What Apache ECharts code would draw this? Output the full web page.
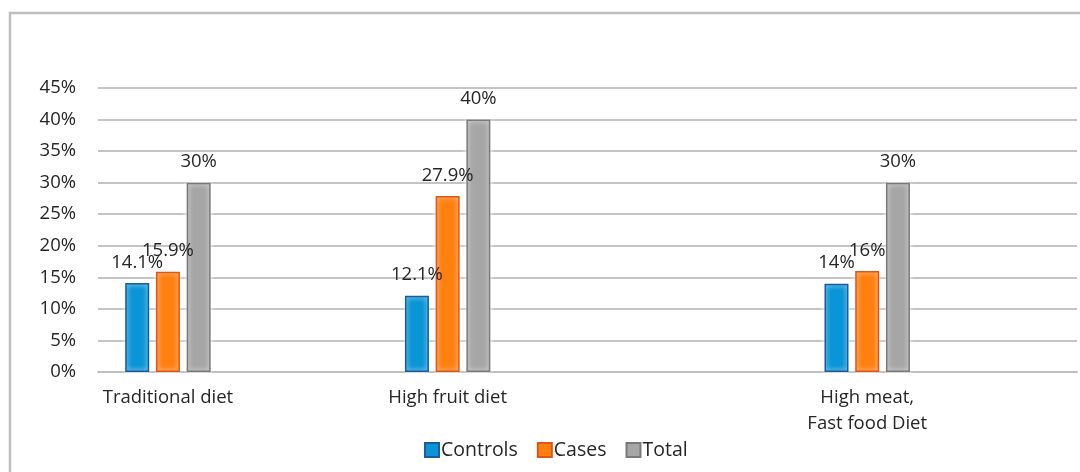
<!DOCTYPE html>
<html>
<head>
<meta charset="utf-8">
<script src="https://cdn.jsdelivr.net/npm/echarts@6/dist/echarts.min.js"></script>
<style>
  html, body { margin: 0; padding: 0; background: #fff; }
  #chart { width: 1080px; height: 472px; }
</style>
</head>
<body>
<div id="chart"></div>
<script>
// Diet pattern groups and the share (%) of each group in every series
const categories = ['Traditional diet', 'High fruit diet', 'High meat,\nFast food Diet'];
const controls = [14.1, 12.1, 14];
const cases = [15.9, 27.9, 16];
const total = [30, 40, 30];
const yTicks = [0, 5, 10, 15, 20, 25, 30, 35, 40, 45];

// The groups sit on a 7-slot category axis, leaving empty slots between them
const SLOT_COUNT = 7;
const groupSlots = [0, 2, 5];

function spread(values) {
  const out = new Array(SLOT_COUNT).fill('-');
  groupSlots.forEach((slot, i) => { out[slot] = values[i]; });
  return out;
}
const axisCategories = spread(categories).map(v => (v === '-' ? '' : v));

const FONT = 'Open Sans';
const FONT_SIZE = 18.5;
const TEXT = '#262626';

function barSeries(name, values, fill, border) {
  return {
    name: name,
    type: 'bar',
    data: spread(values),
    barWidth: 24,
    barGap: '28%',
    itemStyle: {
      color: fill,
      borderColor: border,
      borderWidth: 1.5,
      shadowColor: 'rgba(255,255,255,1)',
      shadowBlur: 5
    },
    label: {
      show: true,
      position: 'top',
      distance: 11,
      color: TEXT,
      fontFamily: FONT,
      fontSize: FONT_SIZE,
      formatter: p => p.value + '%'
    }
  };
}

const chart = echarts.init(document.getElementById('chart'));
chart.setOption({
  animation: false,
  backgroundColor: '#ffffff',
  textStyle: { fontFamily: FONT },
  graphic: [{
    type: 'rect',
    shape: { x: 10, y: 13, width: 1100, height: 520 },
    style: { fill: 'none', stroke: '#bdbdbd', lineWidth: 2.5 },
    silent: true,
    z: -10
  }],
  grid: { left: 98, right: 3, top: 88, bottom: 100, containLabel: false },
  legend: {
    data: ['Controls', 'Cases', 'Total'],
    top: 435,
    left: 419,
    icon: 'rect',
    itemWidth: 14,
    itemHeight: 14,
    itemGap: 19,
    textStyle: { fontFamily: FONT, fontSize: 19.5, color: TEXT, padding: [0, 0, 0, -3] }
  },
  xAxis: {
    type: 'category',
    data: axisCategories,
    axisTick: { show: false },
    axisLine: { lineStyle: { color: '#bfbfbf', width: 2 } },
    axisLabel: {
      interval: 0,
      margin: 13,
      color: TEXT,
      fontFamily: FONT,
      fontSize: FONT_SIZE,
      lineHeight: 26
    }
  },
  yAxis: {
    type: 'value',
    min: yTicks[0],
    max: yTicks[yTicks.length - 1],
    interval: yTicks[1] - yTicks[0],
    axisLine: { show: false },
    axisTick: { show: false },
    axisLabel: {
      margin: 22,
      color: TEXT,
      fontFamily: FONT,
      fontSize: FONT_SIZE,
      formatter: '{value}%'
    },
    splitLine: { lineStyle: { color: '#c4c4c4', width: 2 } }
  },
  series: [
    barSeries('Controls', controls, '#0a95d6', '#1a5c9c'),
    barSeries('Cases', cases, '#ff7f0f', '#e2541a'),
    barSeries('Total', total, '#a6a6a6', '#7a7a7a')
  ]
});
</script>
</body>
</html>
